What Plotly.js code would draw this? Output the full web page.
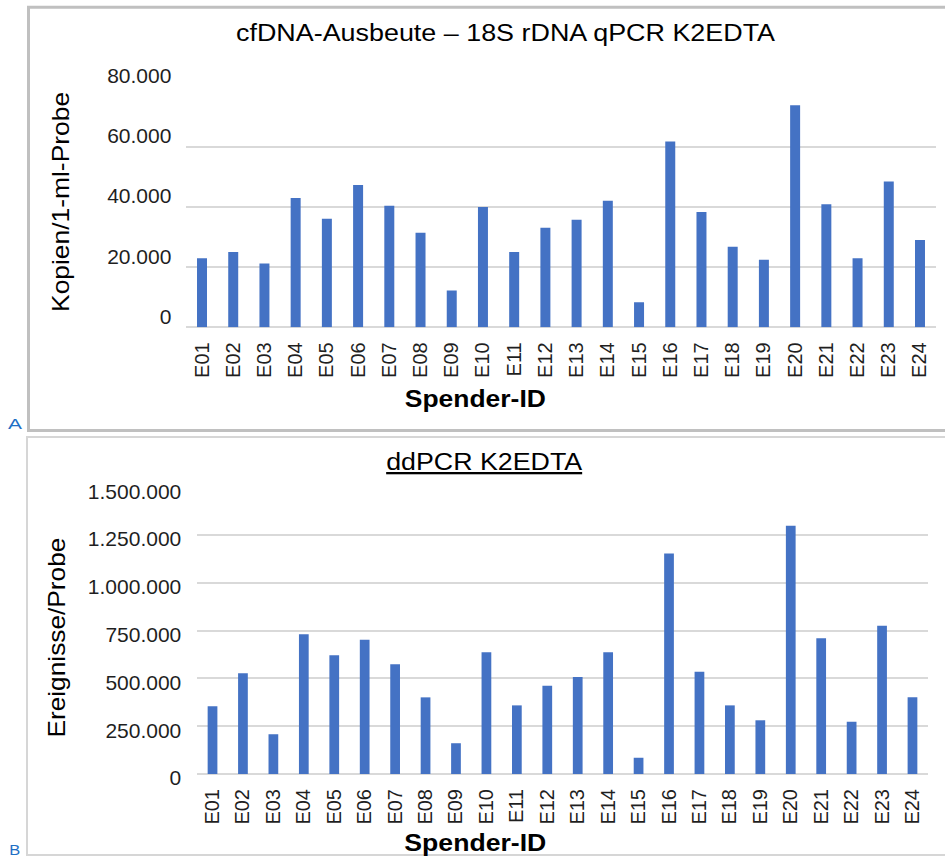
<!DOCTYPE html>
<html>
<head>
<meta charset="utf-8">
<script src="https://cdn.plot.ly/plotly-3.0.1.min.js"></script>
<style>
html,body{margin:0;padding:0;background:#fff;}
#chart{width:945px;height:858px;}
</style>
</head>
<body>
<div id="chart"></div>
<script>
const donors = ["E01","E02","E03","E04","E05","E06","E07","E08","E09","E10","E11","E12",
                "E13","E14","E15","E16","E17","E18","E19","E20","E21","E22","E23","E24"];
const qpcrCopies = [23000, 25000, 21200, 43000, 36100, 47300, 40400, 31400, 12200, 40000, 25000, 33100,
                    35800, 42100, 8300, 61800, 38300, 26800, 22500, 73800, 40900, 23000, 48500, 29000];
const ddpcrEvents = [354000, 527000, 208000, 731000, 621000, 703000, 574000, 401000, 161000, 637000, 359000, 462000,
                     507000, 637000, 85000, 1153000, 535000, 359000, 281000, 1299000, 710000, 274000, 776000, 401000];
const qpcrTicks = [0, 20000, 40000, 60000, 80000];
const ddpcrTicks = [0, 250000, 500000, 750000, 1000000, 1250000, 1500000];

const titleA = "cfDNA-Ausbeute \u2013 18S rDNA qPCR K2EDTA";
const titleB = "ddPCR K2EDTA";
const yTitleA = "Kopien/1-ml-Probe";
const yTitleB = "Ereignisse/Probe";
const xTitle = "Spender-ID";

const W = 945, H = 858;
const FONT = "Liberation Sans, Arial, Helvetica, sans-serif";
const px = v => v / W;
const py = v => 1 - v / H;

const barColor = "#4472c4";
const gridColor = "#d9d9d9";

const traces = [
  {type: "bar", x: donors, y: qpcrCopies, xaxis: "x", yaxis: "y",
   marker: {color: barColor}, hoverinfo: "x+y"},
  {type: "bar", x: donors, y: ddpcrEvents, xaxis: "x2", yaxis: "y2",
   marker: {color: barColor}, hoverinfo: "x+y"}
];

const xCommon = {
  type: "category", tickangle: -90, showgrid: false, zeroline: false,
  showline: false, ticks: "", ticklabelstandoff: 10,
  tickfont: {family: FONT, size: 20, color: "#1f1f1f"}, fixedrange: true
};
const yCommon = {
  showgrid: true, gridcolor: gridColor, gridwidth: 2,
  zeroline: true, zerolinecolor: gridColor, zerolinewidth: 2,
  showline: false, ticks: "", tickformat: ",d",
  tickfont: {family: FONT, size: 21, color: "#1f1f1f"}, fixedrange: true
};

const layout = {
  width: W, height: H,
  margin: {l: 0, r: 0, t: 0, b: 0, pad: 0},
  paper_bgcolor: "#ffffff", plot_bgcolor: "rgba(0,0,0,0)",
  separators: ",.",
  showlegend: false,
  bargap: 0.68,
  xaxis: Object.assign({}, xCommon, {domain: [px(186.4), px(935.6)], anchor: "y"}),
  yaxis: Object.assign({}, yCommon, {domain: [py(327.3), py(86.7)], anchor: "x",
    range: [0, 80000], tickvals: qpcrTicks, ticklabelstandoff: 14, ticklabelshift: -11}),
  xaxis2: Object.assign({}, xCommon, {domain: [px(197.3), px(927.7)], anchor: "y2"}),
  yaxis2: Object.assign({}, yCommon, {domain: [py(774), py(487.3)], anchor: "x2",
    range: [0, 1500000], tickvals: ddpcrTicks, ticklabelstandoff: 15, ticklabelshift: 4}),
  shapes: [
    {type: "rect", xref: "paper", yref: "paper", x0: px(28.5), x1: 1.05, y0: py(430.5), y1: py(7.3),
     line: {color: "#c0c0c0", width: 3}, fillcolor: "rgba(0,0,0,0)", layer: "below"},
    {type: "rect", xref: "paper", yref: "paper", x0: px(27), x1: 1.05, y0: py(855), y1: py(437),
     line: {color: "#d6d6d6", width: 2}, fillcolor: "rgba(0,0,0,0)", layer: "below"}
  ],
  annotations: [
    {text: titleA, xref: "paper", yref: "paper", x: px(505.5), y: py(33), xanchor: "center", yanchor: "middle",
     showarrow: false, font: {family: FONT, size: 23, color: "#000"}},
    {text: "<u>" + titleB + "</u>", xref: "paper", yref: "paper", x: px(484.7), y: py(462), xanchor: "center", yanchor: "middle",
     showarrow: false, font: {family: FONT, size: 23, color: "#000"}},
    {text: yTitleA, xref: "paper", yref: "paper", x: px(60), y: py(202), xanchor: "center", yanchor: "middle",
     textangle: -90, showarrow: false, font: {family: FONT, size: 24, color: "#000"}},
    {text: yTitleB, xref: "paper", yref: "paper", x: px(56), y: py(638), xanchor: "center", yanchor: "middle",
     textangle: -90, showarrow: false, font: {family: FONT, size: 24, color: "#000"}},
    {text: "<b>" + xTitle + "</b>", xref: "paper", yref: "paper", x: px(476), y: py(399), xanchor: "center", yanchor: "middle",
     showarrow: false, font: {family: FONT, size: 23, color: "#000"}},
    {text: "<b>" + xTitle + "</b>", xref: "paper", yref: "paper", x: px(475), y: py(843), xanchor: "center", yanchor: "middle",
     showarrow: false, font: {family: FONT, size: 23, color: "#000"}},
    {text: "A", xref: "paper", yref: "paper", x: px(15), y: py(424), xanchor: "center", yanchor: "middle",
     showarrow: false, font: {family: FONT, size: 15, color: "#1f6fc5"}},
    {text: "B", xref: "paper", yref: "paper", x: px(14), y: py(850), xanchor: "center", yanchor: "middle",
     showarrow: false, font: {family: FONT, size: 14, color: "#1f6fc5"}}
  ]
};

// measured text lengths (px) of the titles and panel letters in the reference, used to widen glyphs
const titleLengths = [539, 196, 220, 200, 141, 142, 14, 11];

Plotly.newPlot("chart", traces, layout, {displayModeBar: false, staticPlot: true}).then(gd => {
  const texts = gd.querySelectorAll(".annotation-text");
  titleLengths.forEach((len, i) => {
    const t = texts[i];
    if (t) {
      t.setAttribute("textLength", len);
      t.setAttribute("lengthAdjust", "spacingAndGlyphs");
    }
  });
});
</script>
</body>
</html>
